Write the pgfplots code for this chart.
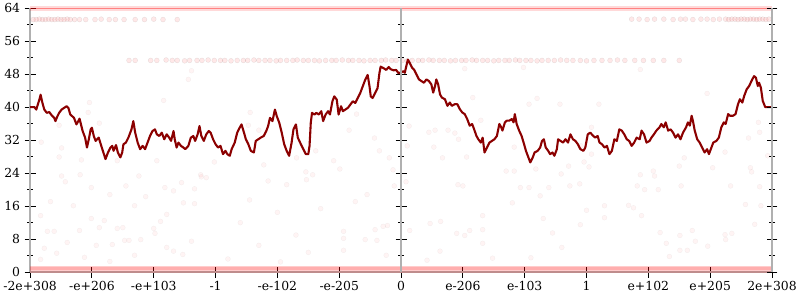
\documentclass[border=0pt]{standalone}
\usepackage{fontspec}
\setmainfont{DejaVu Serif}
\usepackage{pgfplots}
\pgfplotsset{compat=1.18}
\definecolor{linered}{RGB}{139,0,0}
\definecolor{axgray}{RGB}{176,176,176}
\begin{document}
\begin{tikzpicture}
\pgfplotsset{
  base/.style={
    scale only axis, width=747pt, height=266pt,
    xmin=-6, xmax=6, ymin=0, ymax=64,
    clip=false,
    /pgf/number format/assume math mode=true,
    tick align=center,
    major tick length=11pt, minor tick length=6pt,
    every tick/.style={black, line width=0.9pt},
    ytick={0,8,...,64}, minor y tick num=1,
    ticklabel style={font=\fontsize{12.5}{14}\selectfont},
  },
  noarrows/.style={
    axis line style={-, draw=axgray, line width=2.6pt},
    every outer x axis line/.append style={-},
    every outer y axis line/.append style={-},
    every inner x axis line/.append style={-},
    every inner y axis line/.append style={-},
    x axis line style={-}, y axis line style={-},
  }
}
\begin{axis}[base,
  axis x line=bottom, axis y line=left, noarrows,
  xtick={-6,...,6},
  xticklabels={-2e+308,-e+206,-e+103,-1,-e-102,-e-205,0,e-206,e-103,1,e+102,e+205,2e+308},
  yticklabel style={xshift=-1pt},
]
% dense bands
\addplot[red, opacity=0.2, line width=7pt, forget plot] coordinates {(-6,0.6) (6,0.6)};
\addplot[red, opacity=0.15, line width=3pt, forget plot] coordinates {(-6,0.8) (6,0.8)};
\addplot[red, opacity=0.15, line width=5pt, forget plot] coordinates {(-6,63.8) (6,63.8)};
\addplot[red, opacity=0.4, line width=1.8pt, forget plot] coordinates {(-6,63.9) (6,63.9)};
% band near 51
\addplot[only marks, mark=*, mark size=2.5pt, mark options={fill=red, draw=none, opacity=0.09}] coordinates {
(-4.40,51.3) (-4.30,51.3) (-4.05,51.3) (-3.95,51.3) (-3.80,51.4) (-3.70,51.3) (-3.62,51.3) (-3.50,51.2) (-3.42,51.3) (-3.30,51.3) (-3.22,51.3) (-3.12,51.4) (-3.02,51.3) (-2.92,51.3) (-2.85,51.3) (-2.75,51.2) (-2.65,51.3) (-2.55,51.3) (-2.48,51.3) (-2.38,51.4) (-2.30,51.3) (-2.20,51.3) (-2.12,51.3) (-2.02,51.2) (-1.95,51.3) (-1.85,51.3) (-1.75,51.3) (-1.68,51.4) (-1.58,51.3) (-1.50,51.3) (-1.40,51.3) (-1.32,51.2) (-1.22,51.3) (-1.12,51.3) (-1.05,51.3) (-0.95,51.4) (-0.85,51.3) (-0.78,51.3) (-0.68,51.3) (-0.60,51.2) (-0.50,51.3) (-0.42,51.3) (-0.32,51.3) (-0.25,51.4) (-0.15,51.3) (-0.08,51.3) (0.02,51.3) (0.10,51.2) (0.18,51.3) (0.28,51.3) (0.35,51.3) (0.45,51.4) (0.52,51.3) (0.62,51.3) (0.70,51.3) (0.80,51.2) (0.88,51.3) (0.98,51.3) (1.05,51.3) (1.15,51.4) (1.22,51.3) (1.32,51.3) (1.40,51.3) (1.50,51.2) (1.58,51.3) (1.68,51.3) (1.75,51.3) (1.85,51.4) (1.92,51.3) (2.02,51.3) (2.10,51.3) (2.20,51.2) (2.28,51.3) (2.38,51.3) (2.48,51.3) (2.58,51.4) (2.68,51.3) (2.78,51.3) (2.90,51.3) (3.00,51.2) (3.12,51.3) (3.25,51.3) (3.38,51.3) (3.50,51.4) (3.62,51.3) (3.78,51.3) (3.92,51.3) (4.08,51.3) (4.25,51.3) (4.50,51.3)
};
% band near 61
\addplot[only marks, mark=*, mark size=2.5pt, mark options={fill=red, draw=none, opacity=0.09}] coordinates {
(-5.95,61.2) (-5.90,61.2) (-5.85,61.3) (-5.80,61.2) (-5.75,61.2) (-5.70,61.3) (-5.65,61.2) (-5.60,61.2) (-5.55,61.3) (-5.50,61.2) (-5.45,61.2) (-5.40,61.3) (-5.35,61.2) (-5.28,61.2) (-5.20,61.2) (-5.10,61.2) (-4.95,61.2) (-4.85,61.3) (-4.72,61.2) (-4.62,61.2) (-4.48,61.2) (-4.30,61.2) (-4.15,61.2) (-4.00,61.3) (-3.85,61.2) (-3.62,61.2)
(3.73,61.3) (3.85,61.3) (3.98,61.2) (4.10,61.3) (4.25,61.3) (4.40,61.2) (4.52,61.3) (4.60,61.3) (4.72,61.2) (4.85,61.3) (4.95,61.3) (5.05,61.2) (5.15,61.3) (5.25,61.3) (5.30,61.2) (5.35,61.3) (5.40,61.3) (5.45,61.2) (5.50,61.3) (5.55,61.3) (5.60,61.2) (5.65,61.3) (5.70,61.3) (5.75,61.2) (5.80,61.3) (5.85,61.3) (5.90,61.2) (5.95,61.3)
};
% sparse dots
\addplot[only marks, mark=*, mark size=2.5pt, mark options={fill=red, draw=none, opacity=0.045}] coordinates {
(-5.67,17.1) (-5.83,13.7) (-5.72,9.9) (-5.61,9.9) (-5.77,5.8) (-5.83,3.1) (-5.57,4.6) (-5.40,7.2) (-5.30,16.1) (-5.20,10.1) (-5.12,3.6) (-5.01,13.0) (-4.93,6.5) (-4.88,10.8) (-4.80,12.5) (-4.71,2.6) (-4.67,6.7) (-4.59,10.6) (-4.50,10.8) (-4.47,7.7) (-4.40,7.7) (-4.31,16.1) (-4.31,4.1) (-4.21,7.9) (-4.00,10.6) (-3.98,9.4) (-3.89,12.3) (-3.79,14.0) (-3.79,6.0) (-3.68,5.1) (-3.52,16.8) (-3.53,4.3) (-3.39,7.5) (-3.34,16.6)
(-1.30,15.4) (-0.93,9.9) (-0.93,8.2) (-0.93,5.3) (-0.74,17.1) (-0.58,7.9) (-0.42,10.3) (-0.39,7.7) (-0.29,11.1) (-0.22,11.3) (-0.24,4.1) (0.14,10.1) (0.47,11.8) (0.42,2.9) (0.63,5.1) (0.64,12.3) (0.90,9.4) (1.03,8.9) (1.11,10.1) (1.32,13.7) (1.32,7.0) (1.48,3.4) (1.32,10.3)
(3.29,16.1) (3.29,13.2) (3.76,15.6) (3.68,16.2) (3.89,13.7) (4.19,9.6) (4.29,7.0) (4.34,3.8) (4.51,8.9) (4.51,5.3) (4.63,5.3) (4.71,10.1) (4.76,7.5) (4.96,6.3) (5.24,9.1) (5.25,7.9) (5.35,9.4) (5.72,11.6) (5.82,16.1) (5.57,16.4)
(0.13,35.4) (0.10,30.6) (0.08,21.9) (0.45,33.9) (0.55,34.4) (0.53,30.3) (0.67,27.7) (0.76,34.4) (0.93,32.2) (0.87,33.7) (0.92,21.2) (1.00,20.9) (1.06,27.9) (1.03,49.3) (1.16,42.3) (1.29,36.8) (1.70,24.5) (1.83,24.5) (1.83,30.3) (1.93,20.5) (2.07,20.5) (2.07,40.7) (2.20,42.1) (2.18,25.0) (2.25,18.5) (2.39,20.5) (2.57,40.7) (2.59,23.8) (2.71,25.7) (2.73,20.9) (2.89,21.4) (2.91,30.6) (2.96,26.7) (3.04,25.5) (3.08,28.6) (3.08,35.1) (1.98,49.6)
(-5.04,41.1) (-5.06,38.7) (-4.88,36.1) (-5.53,35.6) (-5.82,31.5) (-5.49,30.1) (-5.53,27.9) (-5.17,27.2) (-4.59,27.0) (-5.49,23.3) (-5.43,21.9) (-5.19,23.6) (-5.01,20.5) (-4.71,18.8) (-4.45,20.9) (-4.24,23.3) (-4.13,18.3) (-3.95,27.0) (-3.84,41.6) (-3.82,20.5) (-3.68,19.7) (-3.55,21.7) (-3.24,23.6) (-3.34,20.2) (-3.39,48.8) (-3.44,46.7)
(-2.44,38.7) (-2.47,35.6) (-2.30,34.4) (-3.02,26.7) (-3.23,23.1) (-3.15,22.9) (-2.22,26.0) (-2.15,22.1) (-1.85,21.2) (-1.69,27.7) (-1.54,24.3) (-1.43,23.6) (-1.53,22.4) (-1.38,29.4) (-1.09,27.0) (-0.99,25.0) (-0.84,34.4) (-0.72,38.3) (-0.43,32.5) (-0.35,29.4) (-0.19,27.7) (-0.13,24.8) (-0.11,20.9) (-0.55,18.8)
(3.87,49.1) (4.95,43.3) (5.78,36.3) (5.80,33.9) (5.62,32.5) (5.24,29.1) (4.58,27.7) (5.04,25.3) (4.50,25.7) (4.08,24.5) (4.10,23.3) (3.87,23.6) (5.65,25.3) (5.67,24.3) (3.82,20.9) (3.94,20.0) (4.16,20.0) (4.53,20.9) (5.33,20.9) (5.93,28.2) (5.80,20.7) (3.20,40.7)
(-2.60,12.0) (-2.30,6.5) (-2.00,14.5) (-1.70,9.0) (-1.50,4.8) (-2.80,3.2) (-2.45,17.5) (-1.95,2.5) (2.30,13.0) (2.60,6.0) (2.90,11.5) (2.10,3.5) (3.00,15.0) (1.80,16.8) (2.45,9.5)
};
% main line
\addplot[linered, line width=2.1pt, line join=round] coordinates {
(-6.00,40.0) (-5.93,40.0) (-5.90,39.4) (-5.85,41.8) (-5.83,43.0) (-5.80,41.0) (-5.77,39.4) (-5.73,38.6) (-5.69,38.8) (-5.65,38.0) (-5.61,37.4) (-5.59,36.6) (-5.56,37.7) (-5.53,38.6) (-5.49,39.4) (-5.45,39.8) (-5.41,40.2) (-5.38,39.8) (-5.35,38.2) (-5.32,37.8) (-5.29,37.4) (-5.25,35.8) (-5.22,36.6) (-5.20,37.2) (-5.17,35.4) (-5.15,34.2) (-5.11,32.6) (-5.08,30.2) (-5.05,32.2) (-5.02,34.6) (-5.00,35.0) (-4.97,33.0) (-4.94,31.8) (-4.89,32.6) (-4.84,30.2) (-4.78,27.4) (-4.74,29.0) (-4.70,30.2) (-4.67,30.6) (-4.65,29.4) (-4.61,30.8) (-4.58,29.0) (-4.54,27.8) (-4.51,29.0) (-4.49,31.0) (-4.45,31.4) (-4.41,32.6) (-4.36,34.6) (-4.33,36.6) (-4.30,33.8) (-4.26,31.4) (-4.22,29.8) (-4.18,30.6) (-4.14,29.8) (-4.10,31.4) (-4.06,33.0) (-4.02,34.2) (-3.98,34.6) (-3.95,33.4) (-3.91,33.0) (-3.87,33.8) (-3.83,32.2) (-3.79,33.4) (-3.75,32.6) (-3.72,31.8) (-3.68,34.2) (-3.66,32.2) (-3.63,30.2) (-3.60,31.4) (-3.56,30.6) (-3.52,30.2) (-3.49,29.8) (-3.44,30.6) (-3.40,32.6) (-3.36,33.0) (-3.33,31.8) (-3.29,33.4) (-3.26,35.4) (-3.23,33.0) (-3.19,31.8) (-3.15,33.4) (-3.11,34.2) (-3.08,33.8) (-3.04,32.2) (-3.00,31.0) (-2.96,30.2) (-2.92,30.6) (-2.88,28.6) (-2.84,29.4) (-2.81,28.6) (-2.77,28.2) (-2.74,29.8) (-2.69,31.4) (-2.65,33.8) (-2.61,35.0) (-2.58,35.8) (-2.54,33.8) (-2.51,32.2) (-2.47,31.0) (-2.43,29.4) (-2.38,29.0) (-2.35,31.8) (-2.31,32.2) (-2.27,32.6) (-2.22,33.0) (-2.18,34.2) (-2.15,35.4) (-2.12,37.4) (-2.08,36.6) (-2.04,39.4) (-2.01,37.8) (-1.97,36.2) (-1.93,33.8) (-1.89,31.0) (-1.85,29.4) (-1.81,28.2) (-1.77,31.4) (-1.74,34.6) (-1.70,35.8) (-1.67,32.6) (-1.62,31.0) (-1.58,29.8) (-1.54,28.6) (-1.50,28.6) (-1.48,30.6) (-1.46,36.2) (-1.44,38.6) (-1.40,38.2) (-1.37,38.6) (-1.33,38.2) (-1.29,39.0) (-1.26,36.6) (-1.22,38.2) (-1.18,39.0) (-1.15,38.2) (-1.11,41.4) (-1.08,42.6) (-1.04,41.8) (-1.01,38.2) (-0.97,40.2) (-0.94,39.0) (-0.90,39.4) (-0.86,39.8) (-0.82,40.6) (-0.78,41.4) (-0.74,41.0) (-0.70,42.2) (-0.66,43.4) (-0.62,45.0) (-0.58,46.6) (-0.54,47.8) (-0.51,45.0) (-0.49,42.6) (-0.46,42.2) (-0.42,43.4) (-0.38,44.6) (-0.35,48.2) (-0.33,49.8) (-0.28,49.4) (-0.24,49.0) (-0.20,49.7) (-0.17,49.2) (-0.12,48.9) (-0.08,49.0) (-0.04,48.2) (0.00,48.4)
(0.04,48.7) (0.06,48.3) (0.11,51.5) (0.14,50.7) (0.18,49.5) (0.21,49.1) (0.25,47.9) (0.29,46.7) (0.33,46.3) (0.37,45.9) (0.41,46.7) (0.45,46.3) (0.49,45.5) (0.52,43.5) (0.55,45.1) (0.57,46.7) (0.60,45.5) (0.63,43.1) (0.66,42.3) (0.71,41.9) (0.75,40.3) (0.79,41.1) (0.82,40.3) (0.87,40.7) (0.91,40.7) (0.95,39.5) (0.99,38.7) (1.03,38.3) (1.07,37.1) (1.11,35.5) (1.15,35.9) (1.18,34.7) (1.22,33.0) (1.25,32.2) (1.29,31.4) (1.32,32.6) (1.35,29.0) (1.39,30.2) (1.43,31.4) (1.47,31.8) (1.51,32.2) (1.55,33.0) (1.59,35.9) (1.62,35.1) (1.64,34.3) (1.68,36.3) (1.71,36.7) (1.75,36.7) (1.79,37.1) (1.82,36.3) (1.84,38.3) (1.87,35.9) (1.91,34.3) (1.95,33.0) (1.99,31.0) (2.02,29.4) (2.06,27.8) (2.09,26.6) (2.13,27.8) (2.16,29.0) (2.21,29.4) (2.25,30.2) (2.28,31.8) (2.31,32.2) (2.34,30.2) (2.38,29.4) (2.41,28.6) (2.45,29.0) (2.48,28.2) (2.52,29.8) (2.54,32.2) (2.58,31.8) (2.62,31.4) (2.66,32.2) (2.70,31.4) (2.74,33.4) (2.78,32.2) (2.82,31.8) (2.86,31.0) (2.90,29.8) (2.95,29.4) (2.98,30.2) (3.02,33.4) (3.06,33.8) (3.11,33.0) (3.14,32.6) (3.18,33.0) (3.21,31.4) (3.25,31.0) (3.29,30.2) (3.33,30.6) (3.37,28.6) (3.41,29.4) (3.45,32.2) (3.49,31.8) (3.53,34.6) (3.57,34.3) (3.61,33.4) (3.65,32.2) (3.69,31.8) (3.73,30.6) (3.77,31.4) (3.81,32.6) (3.86,32.2) (3.89,34.3) (3.93,33.4) (3.97,31.4) (4.02,31.8) (4.05,32.6) (4.09,33.4) (4.13,34.3) (4.18,35.1) (4.21,35.9) (4.25,35.1) (4.28,36.3) (4.32,34.3) (4.36,34.6) (4.40,33.8) (4.44,32.6) (4.48,33.4) (4.52,32.2) (4.56,33.8) (4.61,35.1) (4.64,36.3) (4.67,35.5) (4.70,37.9) (4.72,36.7) (4.75,34.3) (4.79,32.2) (4.83,31.4) (4.87,30.2) (4.91,29.0) (4.95,29.8) (4.98,28.6) (5.02,30.2) (5.05,31.4) (5.10,31.8) (5.14,32.6) (5.18,35.1) (5.22,36.3) (5.25,35.9) (5.29,38.3) (5.32,37.9) (5.37,37.9) (5.41,38.3) (5.45,40.7) (5.48,41.9) (5.52,41.1) (5.55,42.7) (5.59,44.3) (5.63,45.1) (5.68,46.7) (5.71,47.5) (5.74,47.1) (5.77,45.1) (5.79,45.9) (5.82,44.7) (5.85,41.5) (5.89,40.0) (6.00,40.0)
};
\end{axis}
% centre vertical axis
\begin{axis}[base, hide x axis, axis y line=middle, noarrows, yticklabels={}]
\end{axis}
% right vertical axis
\begin{axis}[base, hide x axis, axis y line=right, noarrows, yticklabels={}]
\end{axis}
\end{tikzpicture}
\end{document}
